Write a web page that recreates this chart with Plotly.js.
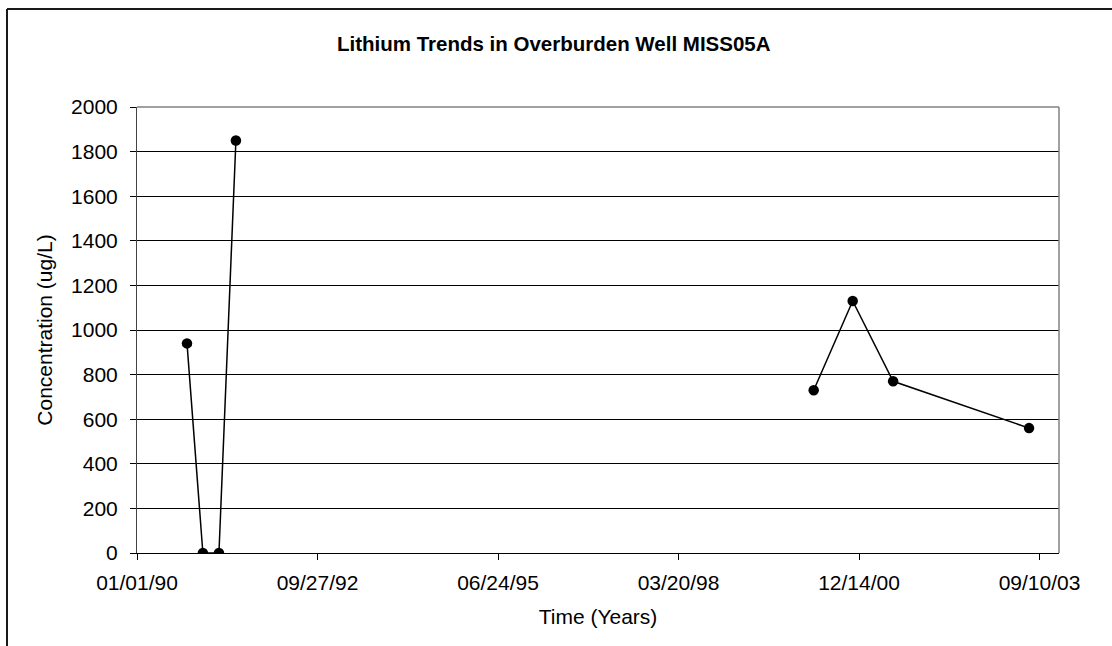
<!DOCTYPE html>
<html>
<head>
<meta charset="utf-8">
<script src="https://cdn.plot.ly/plotly-3.0.1.min.js"></script>
<style>html,body{margin:0;padding:0;background:#fff;}#chart{width:1112px;height:646px;}</style>
</head>
<body>
<div id="chart"></div>
<script>
// Sample dates (null entry = break in the line between sampling periods)
var sampleDates = ['1990-10-05', '1991-01-01', '1991-03-31', '1991-07-03', null, '2000-04-07', '2000-11-09', '2001-06-21', '2003-07-14'];
var lithiumValues = [940, 0, 0, 1850, null, 730, 1130, 770, 560];
var yTickValues = [0, 200, 400, 600, 800, 1000, 1200, 1400, 1600, 1800, 2000];
var xTickStart = '1990-01-01';
var xTickStepDays = 1000;
var xRange = ['1990-01-01', '2003-12-27'];

// the null date only carries the gap (its value is null so nothing is drawn)
var xs = sampleDates.map(function(d){ return d === null ? '1995-01-01' : d; });

var FONT = 'Liberation Sans, Arial, Helvetica, sans-serif';
var FS = 21;

var trace = {
  x: xs,
  y: lithiumValues,
  type: 'scatter',
  mode: 'lines+markers',
  connectgaps: false,
  line: {color: '#000000', width: 1.5},
  marker: {color: '#000000', size: 10.5, symbol: 'circle'},
  hoverinfo: 'x+y',
  showlegend: false
};

var layout = {
  width: 1112,
  height: 646,
  margin: {l: 137, r: 53, t: 107, b: 93, pad: 0},
  paper_bgcolor: '#ffffff',
  plot_bgcolor: '#ffffff',
  font: {family: FONT, size: FS, color: '#000000'},
  title: {
    text: '<b>Lithium Trends in Overburden Well MISS05A</b>',
    font: {family: FONT, size: 20.5, color: '#000000'},
    x: 0.498, xref: 'container', xanchor: 'center',
    y: 1 - 44/646, yref: 'container', yanchor: 'middle'
  },
  xaxis: {
    type: 'date',
    range: xRange,
    tick0: xTickStart,
    dtick: xTickStepDays * 86400000,
    tickformat: '%m/%d/%y',
    ticks: 'outside',
    ticklen: 6,
    tickcolor: '#000000',
    tickwidth: 1,
    ticklabelstandoff: 5,
    showgrid: false,
    zeroline: false,
    showline: true,
    linecolor: '#000000',
    linewidth: 1,
    tickfont: {family: FONT, size: FS, color: '#000000'},
    title: {text: 'Time (Years)', font: {family: FONT, size: FS, color: '#000000'}, standoff: 16},
    automargin: false
  },
  yaxis: {
    range: [0, 2000],
    tickvals: yTickValues,
    ticktext: yTickValues.map(String),
    ticks: 'outside',
    ticklen: 6,
    tickcolor: '#000000',
    tickwidth: 1,
    ticklabelstandoff: 8,
    showgrid: true,
    gridcolor: '#000000',
    gridwidth: 1,
    zeroline: false,
    showline: true,
    linecolor: '#444444',
    linewidth: 1,
    tickfont: {family: FONT, size: FS, color: '#000000'},
    title: {text: 'Concentration (ug/L)', font: {family: FONT, size: FS, color: '#000000'}, standoff: 12},
    automargin: false
  },
  shapes: [
    // plot area right and top borders
    {type: 'line', xref: 'paper', yref: 'paper', x0: 1, x1: 1, y0: 0, y1: 1, line: {color: '#808080', width: 1.5}},
    {type: 'line', xref: 'paper', yref: 'paper', x0: 0, x1: 1, y0: 1, y1: 1, line: {color: '#808080', width: 1.5}},
    // outer chart frame (extends beyond the picture on the right and bottom)
    {type: 'line', xref: 'paper', yref: 'paper', x0: (7-137)/922, x1: 1.2, y0: (553-9)/446, y1: (553-9)/446, line: {color: '#1a1a1a', width: 2}},
    {type: 'line', xref: 'paper', yref: 'paper', x0: (7-137)/922, x1: (7-137)/922, y0: (553-9)/446, y1: -0.3, line: {color: '#1a1a1a', width: 2}}
  ]
};

Plotly.newPlot('chart', [trace], layout, {displayModeBar: false, staticPlot: true});
</script>
</body>
</html>
